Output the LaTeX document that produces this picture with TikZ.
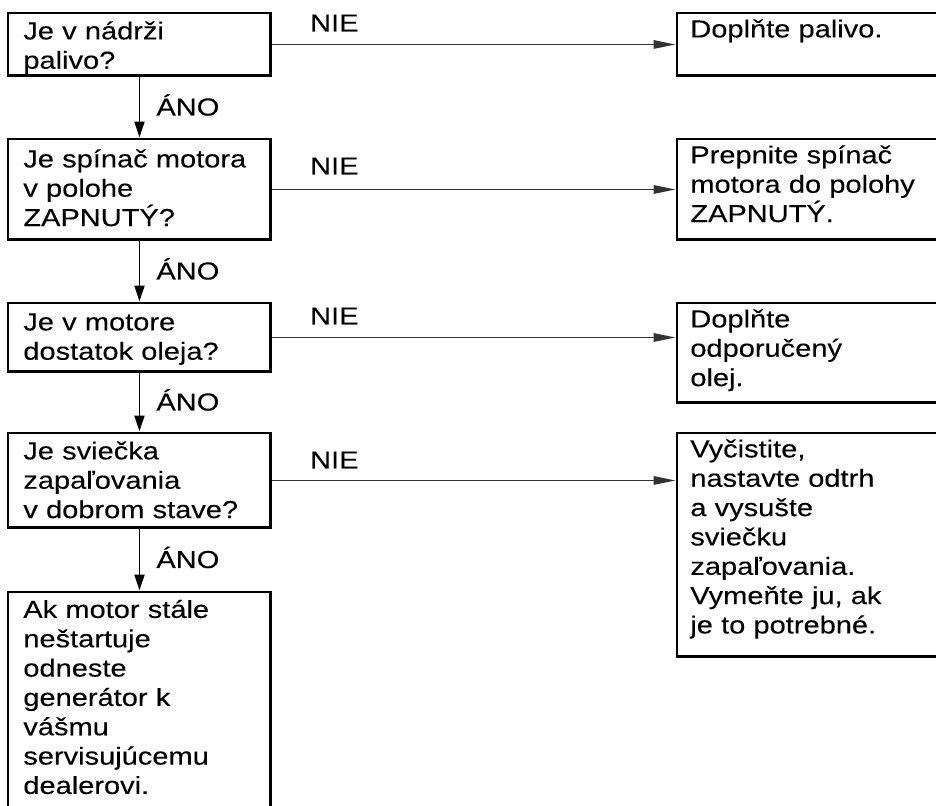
\documentclass[tikz,border=0pt]{standalone}
\usepackage{fontspec}
\setmainfont{Liberation Sans}[FakeStretch=1.18, FakeBold=0.15]
\usetikzlibrary{arrows.meta,positioning}

\begin{document}
\begin{tikzpicture}[
  x=0.02cm, y=-0.02cm,
  font=\fontsize{14}{16.7}\selectfont,
  qbox/.style={rectangle, draw=black, line width=1.7pt, inner sep=0pt, anchor=north west,
               minimum width=5.26cm},
  abox/.style={rectangle, draw=black, line width=1.7pt, inner sep=0pt, anchor=north west,
               minimum width=6.4cm},
  txt/.style={inner sep=0pt, align=left, text width=5cm, execute at begin node=\strut},
  yes/.style={-{Triangle[length=0.32cm, width=0.2cm]}, line width=1.1pt},
  no/.style={-{Triangle[length=0.44cm, width=0.17cm]}, line width=0.8pt, draw=black!80},
  lbl/.style={inner sep=0pt, anchor=base west},
]
\useasboundingbox (0,0) rectangle (936,805);
\clip (0,0) rectangle (936,805);

% questions
\node[qbox, minimum height=1.26cm] (q1) at (6.5,11.5)  {};
\node[qbox, minimum height=2.02cm] (q2) at (6.5,137.5) {};
\node[qbox, minimum height=1.38cm] (q3) at (6.5,301.5) {};
\node[qbox, minimum height=1.9cm]  (q4) at (6.5,431.5) {};
\node[qbox, minimum height=5cm]    (q5) at (6.5,590.5) {};

% remedies
\node[abox, minimum height=1.26cm] (a1) at (675.5,11.5)  {};
\node[abox, minimum height=2.02cm] (a2) at (675.5,137.5) {};
\node[abox, minimum height=2.0cm]  (a3) at (675.5,301.5) {};
\node[abox, minimum height=4.48cm] (a4) at (675.5,431.5) {};

\node[txt, below right=0.14cm and 0.33cm of q1.north west] (q1t) {Je v nádrži\\palivo?};
\node[txt, below right=0.18cm and 0.33cm of q2.north west] (q2t) {Je spínač motora\\v polohe\\ZAPNUTÝ?};
\node[txt, below right=0.16cm and 0.33cm of q3.north west] (q3t) {Je v motore\\dostatok oleja?};
\node[txt, below right=0.14cm and 0.33cm of q4.north west] (q4t) {Je sviečka\\zapaľovania\\v dobrom stave?};
\node[txt, below right=0.13cm and 0.33cm of q5.north west] (q5t) {Ak motor stále\\neštartuje\\odneste\\generátor k\\vášmu\\servisujúcemu\\dealerovi.};

\node[txt, text width=6cm, below right=0.1cm and 0.29cm of a1.north west] (a1t) {Doplňte palivo.};
\node[txt, text width=6cm, below right=0.1cm and 0.29cm of a2.north west] (a2t) {Prepnite spínač\\motora do polohy\\ZAPNUTÝ.};
\node[txt, text width=6cm, below right=0.1cm and 0.29cm of a3.north west] (a3t) {Doplňte\\odporučený\\olej.};
\node[txt, text width=6cm, below right=0.1cm and 0.29cm of a4.north west] (a4t) {Vyčistite,\\nastavte odtrh\\a vysušte\\sviečku\\zapaľovania.\\Vymeňte ju, ak\\je to potrebné.};

% yes branch
\draw[yes] (q1) -- node[lbl, xshift=0.32cm, yshift=-0.16cm] {ÁNO} (q2);
\draw[yes] (q2) -- node[lbl, xshift=0.32cm, yshift=-0.16cm] {ÁNO} (q3);
\draw[yes] (q3) -- node[lbl, xshift=0.32cm, yshift=-0.16cm] {ÁNO} (q4);
\draw[yes] (q4) -- node[lbl, xshift=0.32cm, yshift=-0.16cm] {ÁNO} (q5);

% no branch
\draw[no] (q1.east) -- node[lbl, pos=0, xshift=0.74cm, yshift=0.26cm] {NIE} (q1.east -| a1.west);
\draw[no] (q2.east) -- node[lbl, pos=0, xshift=0.74cm, yshift=0.3cm]  {NIE} (q2.east -| a2.west);
\draw[no] (q3.east) -- node[lbl, pos=0, xshift=0.74cm, yshift=0.26cm] {NIE} (q3.east -| a3.west);
\draw[no] (q4.east) -- node[lbl, pos=0, xshift=0.74cm, yshift=0.24cm] {NIE} (q4.east -| a4.west);
\end{tikzpicture}
\end{document}
